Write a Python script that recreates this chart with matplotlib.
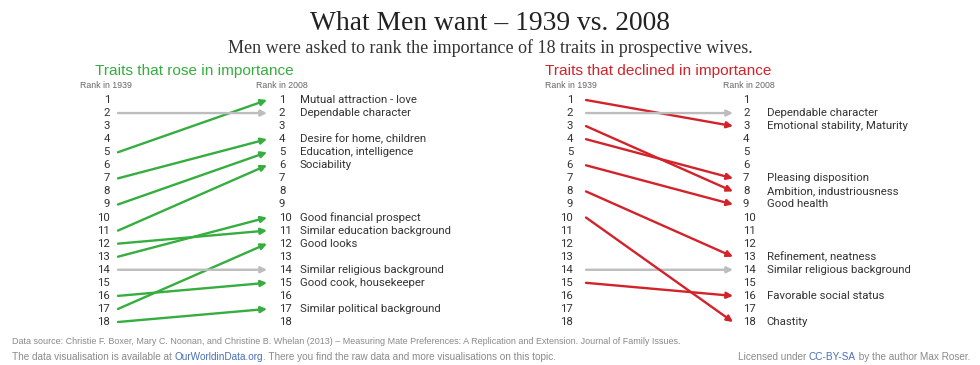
import matplotlib.pyplot as plt
from matplotlib import font_manager

# ranks 1939 -> 2008
rose_1939 = [5, 2, 7, 9, 11, 13, 12, 17, 14, 16, 18]
rose_2008 = [1, 2, 4, 5, 6, 10, 11, 12, 14, 15, 17]
rose_traits = ['Mutual attraction - love', 'Dependable character',
               'Desire for home, children', 'Education, intelligence',
               'Sociability', 'Good financial prospect',
               'Similar education background', 'Good looks',
               'Similar religious background', 'Good cook, housekeeper',
               'Similar political background']

fell_1939 = [1, 2, 4, 3, 6, 8, 14, 15, 10]
fell_2008 = [3, 2, 7, 8, 9, 13, 14, 16, 18]
fell_traits = ['Emotional stability, Maturity', 'Dependable character',
               'Pleasing disposition', 'Ambition, industriousness',
               'Good health', 'Refinement, neatness',
               'Similar religious background', 'Favorable social status',
               'Chastity']

ranks = list(range(1, 19))

GREEN = '#36ad3f'
RED = '#d2232a'
GREY = '#bdbdbd'
TXT = '#333333'
SANS = 'Liberation Sans'

# narrow sans for the rows if there is one
try:
    font_manager.findfont(font_manager.FontProperties(family='Liberation Sans Narrow'),
                          fallback_to_default=False)
    ROW, ROW_SIZE = 'Liberation Sans Narrow', 9.8
except ValueError:
    ROW, ROW_SIZE = 'Roboto', 8.2

W, H = 980, 365
fig = plt.figure(figsize=(W / 100, H / 100), dpi=100)
fig.patch.set_facecolor('white')


def panel(x0, x1, r39, r08, traits, color, title, tx, h39, h08,
          n39_off, n08_off, lab_off):
    ax = fig.add_axes([x0 / W, (H - 322) / H, (x1 - x0) / W, 222 / H])
    ax.set_xlim(0, 1)
    ax.set_ylim(18, 1)
    ax.axis('off')
    for r in ranks:
        ax.text(-n39_off, r, str(r), ha='right', va='center', fontsize=ROW_SIZE,
                color=TXT, family=ROW)
        ax.text(1 + n08_off, r, str(r), ha='left', va='center', fontsize=ROW_SIZE,
                color=TXT, family=ROW)
    for a, b, name in zip(r39, r08, traits):
        c = GREY if a == b else color
        ax.annotate('', xy=(1, b), xytext=(0, a),
                    arrowprops=dict(arrowstyle='-|>', color=c, lw=1.7,
                                    mutation_scale=9, shrinkA=0, shrinkB=0))
        ax.text(1 + lab_off, b, name, ha='left', va='center', fontsize=ROW_SIZE,
                color=TXT, family=ROW)
    fig.text(tx / W, 1 - 71 / H, title, color=color, fontsize=11.1,
             family=SANS, va='center')
    fig.text(h39 / W, 1 - 86 / H, 'Rank in 1939', color='#666666',
             fontsize=6.3, family=SANS, va='center')
    fig.text(h08 / W, 1 - 86 / H, 'Rank in 2008', color='#666666',
             fontsize=6.3, family=SANS, va='center')


panel(118, 267, rose_1939, rose_2008, rose_traits, GREEN,
      'Traits that rose in importance', 95, 80, 256,
      0.054, 0.08, 0.22)
panel(586, 733, fell_1939, fell_2008, fell_traits, RED,
      'Traits that declined in importance', 545, 545, 723,
      0.088, 0.068, 0.23)

fig.text(0.5, 1 - 24 / H, 'What Men want \u2013 1939 vs. 2008',
         ha='center', va='center', fontsize=19.8, family='Liberation Serif',
         color='#222222')
fig.text(0.5, 1 - 48 / H,
         'Men were asked to rank the importance of 18 traits in prospective wives.',
         ha='center', va='center', fontsize=13, family='Liberation Serif',
         color='#333333')

FOOT = '#8a8a8a'
LINK = '#4a6fb5'
fig.text(12 / W, 1 - 341 / H,
         'Data source: Christie F. Boxer, Mary C. Noonan, and Christine B. Whelan (2013) '
         '\u2013 Measuring Mate Preferences: A Replication and Extension. '
         'Journal of Family Issues.',
         fontsize=6.5, color=FOOT, family=SANS, va='center')

t = fig.text(12 / W, 1 - 357 / H, 'The data visualisation is available at ',
             fontsize=7.2, color=FOOT, family=SANS, va='center')
for s, c in [('OurWorldinData.org', LINK),
             ('. There you find the raw data and more visualisations on this topic.', FOOT)]:
    t = fig.axes[0].annotate(s, xy=(1, 0), xycoords=t, va='bottom', ha='left',
                             fontsize=7.2, color=c, family=SANS,
                             annotation_clip=False)

t = fig.text(970 / W, 1 - 357 / H, ' by the author Max Roser.', ha='right',
             fontsize=7.2, color=FOOT, family=SANS, va='center')
for s, c in [('CC-BY-SA', LINK), ('Licensed under ', FOOT)]:
    t = fig.axes[0].annotate(s, xy=(0, 0), xycoords=t, va='bottom', ha='right',
                             fontsize=7.2, color=c, family=SANS,
                             annotation_clip=False)

fig.savefig('out.png', dpi=100, facecolor='white')
